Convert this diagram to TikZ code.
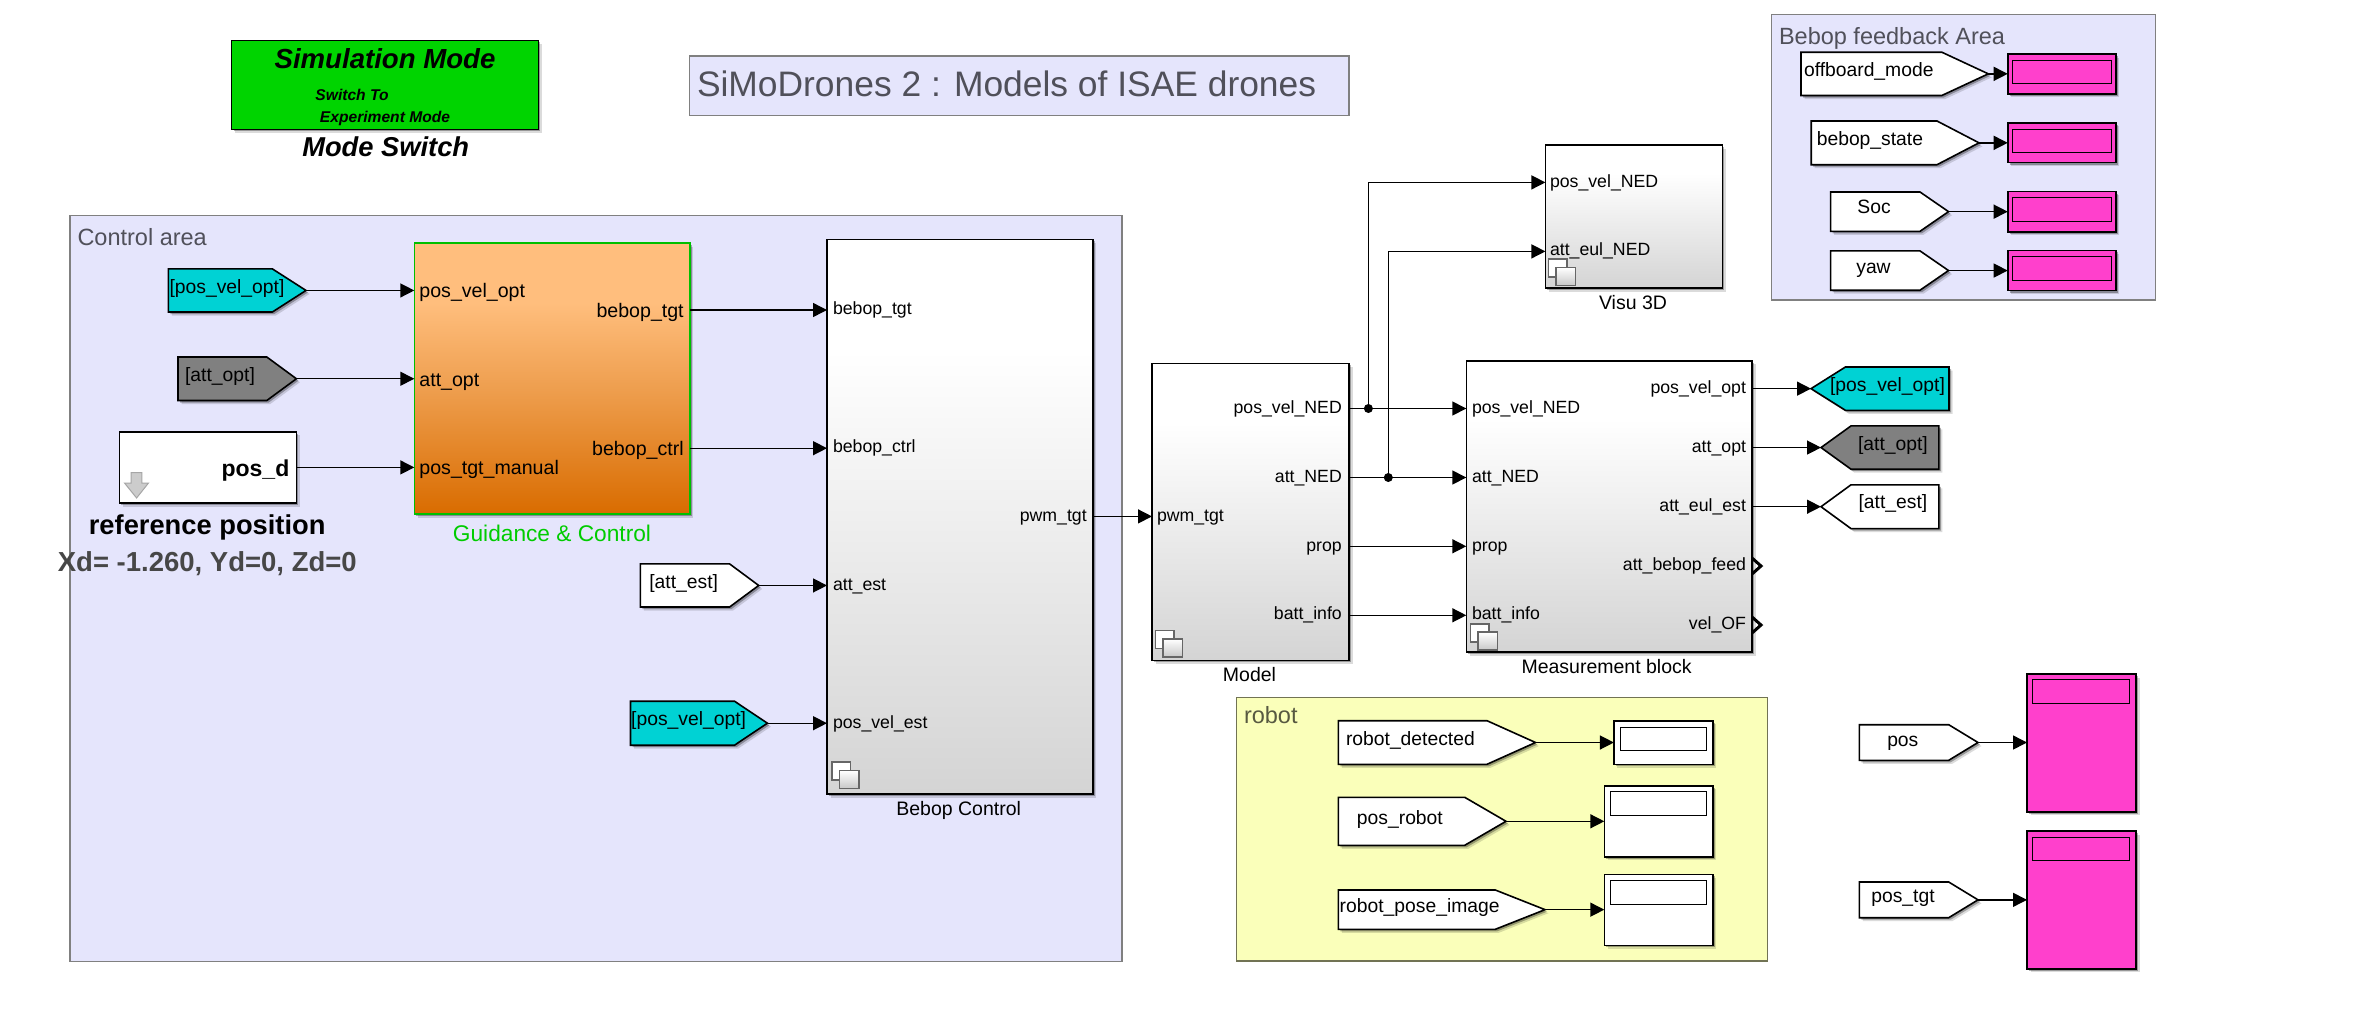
\documentclass[tikz,border=0pt]{standalone}
\usepackage{fontspec}
\setmainfont{Liberation Sans}
\usetikzlibrary{arrows.meta,shadows,calc}
\makeatletter
\pgfkeys{/tikz/tagtip/.initial=30}
\pgfdeclareshape{gotor}{
  \inheritsavedanchors[from=rectangle]
  \inheritanchorborder[from=rectangle]
  \inheritanchor[from=rectangle]{center}
  \inheritanchor[from=rectangle]{west}
  \inheritanchor[from=rectangle]{east}
  \inheritanchor[from=rectangle]{north}
  \inheritanchor[from=rectangle]{south}
  \backgroundpath{
    \southwest \pgf@xa=\pgf@x \pgf@ya=\pgf@y
    \northeast \pgf@xb=\pgf@x \pgf@yb=\pgf@y
    \pgf@xc=\pgf@xb \advance\pgf@xc by -\pgfkeysvalueof{/tikz/tagtip}pt
    \pgf@yc=.5\pgf@ya \advance\pgf@yc by .5\pgf@yb
    \pgfpathmoveto{\pgfpoint{\pgf@xa}{\pgf@ya}}
    \pgfpathlineto{\pgfpoint{\pgf@xc}{\pgf@ya}}
    \pgfpathlineto{\pgfpoint{\pgf@xb}{\pgf@yc}}
    \pgfpathlineto{\pgfpoint{\pgf@xc}{\pgf@yb}}
    \pgfpathlineto{\pgfpoint{\pgf@xa}{\pgf@yb}}
    \pgfpathclose
  }
}
\pgfdeclareshape{gotol}{
  \inheritsavedanchors[from=rectangle]
  \inheritanchorborder[from=rectangle]
  \inheritanchor[from=rectangle]{center}
  \inheritanchor[from=rectangle]{west}
  \inheritanchor[from=rectangle]{east}
  \inheritanchor[from=rectangle]{north}
  \inheritanchor[from=rectangle]{south}
  \backgroundpath{
    \southwest \pgf@xa=\pgf@x \pgf@ya=\pgf@y
    \northeast \pgf@xb=\pgf@x \pgf@yb=\pgf@y
    \pgf@xc=\pgf@xa \advance\pgf@xc by \pgfkeysvalueof{/tikz/tagtip}pt
    \pgf@yc=.5\pgf@ya \advance\pgf@yc by .5\pgf@yb
    \pgfpathmoveto{\pgfpoint{\pgf@xb}{\pgf@ya}}
    \pgfpathlineto{\pgfpoint{\pgf@xc}{\pgf@ya}}
    \pgfpathlineto{\pgfpoint{\pgf@xa}{\pgf@yc}}
    \pgfpathlineto{\pgfpoint{\pgf@xc}{\pgf@yb}}
    \pgfpathlineto{\pgfpoint{\pgf@xb}{\pgf@yb}}
    \pgfpathclose
  }
}
\makeatother
\definecolor{lav}{RGB}{229,229,252}
\definecolor{robotbg}{RGB}{250,255,186}
\definecolor{simgreen}{RGB}{0,212,0}
\definecolor{cyantag}{RGB}{0,210,212}
\definecolor{graytag}{RGB}{128,128,128}
\definecolor{magbox}{RGB}{255,64,204}
\definecolor{areatxt}{RGB}{80,80,90}
\definecolor{gO}{RGB}{217,108,0}
\definecolor{gM}{RGB}{238,158,78}
\definecolor{gT}{RGB}{255,190,125}
\definecolor{sD}{RGB}{212,212,212}
\pgfdeclareverticalshading{guidshade}{100bp}{color(0bp)=(gO); color(25bp)=(gO); color(48bp)=(gM); color(64bp)=(gT); color(100bp)=(gT)}
\pgfdeclareverticalshading{subshade}{100bp}{color(0bp)=(sD); color(25bp)=(sD); color(65bp)=(white); color(100bp)=(white)}
\newcommand\fsz[1]{\fontsize{#1}{#1}\selectfont}
\newcommand\blk[6]{\node[#1,minimum width={#5pt-#3pt},minimum height={#6pt-#4pt}] (#2) at ({(#3+#5)/2},{(#4+#6)/2}) {};}
\newcommand\subicon[2]{%
  \draw[icon] (#1,#2) rectangle ++(18.4,18);
  \draw[iconfront] (#1+7.6,#2+8.6) rectangle ++(19.4,18);}
\tikzset{
  base/.style={inner sep=0pt,outer sep=0pt},
  sh/.style={general shadow={shadow xshift=3.5pt,shadow yshift=-3.5pt,fill=black,opacity=.14},
             general shadow={shadow xshift=2pt,shadow yshift=-2pt,fill=black,opacity=.3}},
  area/.style={base,rectangle,draw=black!50,line width=1.1pt,fill=lav},
  subsys/.style={base,rectangle,draw=black,line width=1.6pt,shade,shading=subshade,sh},
  guidblock/.style={base,rectangle,draw=green!75!black,line width=1.6pt,shade,shading=guidshade,sh},
  plainblock/.style={base,rectangle,draw=black,line width=1.6pt,fill=white,sh},
  magdisp/.style={base,rectangle,draw=black,line width=1.6pt,fill=magbox,sh},
  whitedisp/.style={base,rectangle,draw=black,line width=1.6pt,fill=white,sh},
  inner/.style={base,rectangle,draw=black,line width=1pt},
  modebtn/.style={base,rectangle,draw=black,line width=1.6pt,fill=simgreen,sh},
  tagR/.style={base,shape=gotor,tagtip=#1,draw=black,line width=1.6pt,sh},
  tagL/.style={base,shape=gotol,tagtip=#1,draw=black,line width=1.6pt,sh},
  wire/.style={line width=1.4pt,-{Triangle[length=14pt,width=14pt]}},
  jct/.style={base,circle,fill=black,minimum size=9pt},
  txt/.style={base,execute at begin node={\rule[-.25em]{0pt}{1.22em}}},
  p/.style={txt,font=\fsz{17.7}},
  q/.style={txt,font=\fsz{19.6}},
  t/.style={txt,font=\fsz{19.3}},
  caption/.style={txt,font=\fsz{19.5}},
  areatitle/.style={txt,font=\fsz{23.5},text=areatxt},
  icon/.style={line width=1.7pt,draw=black!60,fill=white},
  iconfront/.style={line width=1.7pt,draw=black!60,top color=white,bottom color=black!22},
  chev/.style={line width=3pt,draw=black,line join=miter},
}
\begin{document}
\begin{tikzpicture}[x=1pt,y=-1pt]
\useasboundingbox (0,0) rectangle (2355,1009);
\fill[white] (0,0) rectangle (2355,1009);

% mode switch
\blk{modebtn}{modeBtn}{231.6}{40.3}{538.3}{129.3}
\node[txt,font=\fsz{27.6}\bfseries\itshape] (simMode) at (385,58.5) {Simulation Mode};
\node[txt,font=\fsz{15.6}\bfseries\itshape] (swTo) at (352,95.3) {Switch To};
\node[txt,font=\fsz{15.6}\bfseries\itshape] (expMode) at (385,116.6) {Experiment Mode};
\node[txt,font=\fsz{27.3}\bfseries\itshape] (modeSw) at (385.7,146.3) {Mode Switch};

% title
\blk{area}{titleBox}{689.3}{56}{1349}{115.5}
\node[txt,anchor=west,font=\fsz{35.4},text=areatxt] (titleTxt) at (697,84) {SiMoDrones 2 : Models of ISAE drones};

% areas
\blk{area}{ctrlArea}{70}{215.5}{1122}{961.7}
\node[areatitle,anchor=west] (ctrlTxt) at (77.5,237) {Control area};
\blk{area}{fbArea}{1771.4}{14.7}{2155.6}{300}
\node[areatitle,anchor=west] (fbTxt) at (1779,35.7) {Bebop feedback Area};
\blk{area,fill=robotbg,draw=black!55!robotbg}{robotArea}{1236.4}{697.3}{1767.6}{961}
\node[areatitle,anchor=west,text=black!65!robotbg] (robotTxt) at (1244,715) {robot};

% left sources
\blk{tagR=33.6,fill=cyantag}{tCyanA}{168.4}{268.9}{306}{312}
\node[t] (tCyanAt) at (227,287) {[pos\_vel\_opt]};
\blk{tagR=29.6,fill=graytag}{tGrayA}{178}{357}{296.4}{400.5}
\node[t] (tGrayAt) at (220,375) {[att\_opt]};
\blk{plainblock}{posD}{119.4}{431.8}{296.4}{503}
\node[txt,anchor=east,font=\fsz{23}\bfseries] (posDt) at (289.3,467.8) {pos\_d};
\draw[line width=1pt,draw=black!35,fill=black!20] (131.1,472.5) -- (141.8,472.5) -- (141.8,483) -- (148.5,483) -- (136.6,498) -- (124.5,483) -- (131.1,483) -- cycle;
\node[txt,font=\fsz{27.3}\bfseries] (refPos) at (207.2,525) {reference position};
\node[txt,font=\fsz{27.5}\bfseries,text=black!72] (xdTxt) at (207.3,561.5) {Xd= -1.260, Yd=0, Zd=0};

% guidance
\blk{guidblock}{guid}{414.3}{243.2}{689.8}{514}
\node[q,anchor=west] (gA) at (419.4,290.6) {pos\_vel\_opt};
\node[q,anchor=west] (gB) at (419.4,379.6) {att\_opt};
\node[q,anchor=west] (gC) at (419.4,467.4) {pos\_tgt\_manual};
\node[q,anchor=east] (gD) at (683.7,310.8) {bebop\_tgt};
\node[q,anchor=east] (gE) at (683.7,448) {bebop\_ctrl};
\node[txt,font=\fsz{22.7},text=green!80!black] (gCap) at (552,533.8) {Guidance \& Control};

% bebop control
\blk{subsys}{bebop}{827}{239.3}{1092.9}{794}
\node[p,anchor=west] (bA) at (833,308.2) {bebop\_tgt};
\node[p,anchor=west] (bB) at (833,446.5) {bebop\_ctrl};
\node[p,anchor=west] (bC) at (833,583.8) {att\_est};
\node[p,anchor=west] (bD) at (833,721.8) {pos\_vel\_est};
\node[p,anchor=east] (bE) at (1086.7,514.8) {pwm\_tgt};
\node[caption] (bCap) at (958.7,808.7) {Bebop Control};
\subicon{832}{762}
\blk{tagR=29.1,fill=white}{tWhiteA}{640.3}{563.9}{758.7}{607}
\node[t] (tWhiteAt) at (683.7,582) {[att\_est]};
\blk{tagR=32.9,fill=cyantag}{tCyanB}{630.5}{701.2}{767.4}{745.2}
\node[t] (tCyanBt) at (688.6,719) {[pos\_vel\_opt]};

% model
\blk{subsys}{model}{1152}{363.3}{1349}{660.3}
\node[p,anchor=west] (mA) at (1157,514.8) {pwm\_tgt};
\node[p,anchor=east] (mB) at (1341.8,407) {pos\_vel\_NED};
\node[p,anchor=east] (mC) at (1341.8,476) {att\_NED};
\node[p,anchor=east] (mD) at (1341.8,545) {prop};
\node[p,anchor=east] (mE) at (1341.8,613.5) {batt\_info};
\node[caption] (mCap) at (1249.5,674.4) {Model};
\subicon{1155.6}{630.4}

% visu
\blk{subsys}{visu}{1545.4}{145}{1722.4}{288}
\node[p,anchor=west] (vA) at (1550,181) {pos\_vel\_NED};
\node[p,anchor=west] (vB) at (1550,249.6) {att\_eul\_NED};
\node[caption] (vCap) at (1633,302) {Visu 3D};
\subicon{1548.5}{259}

% measurement
\blk{subsys}{meas}{1466.3}{360.7}{1752}{652.2}
\node[p,anchor=west] (eA) at (1472,407) {pos\_vel\_NED};
\node[p,anchor=west] (eB) at (1472,476) {att\_NED};
\node[p,anchor=west] (eC) at (1472,545) {prop};
\node[p,anchor=west] (eD) at (1472,613) {batt\_info};
\node[p,anchor=east] (eE) at (1746,387.5) {pos\_vel\_opt};
\node[p,anchor=east] (eF) at (1746,446.5) {att\_opt};
\node[p,anchor=east] (eG) at (1746,505.5) {att\_eul\_est};
\node[p,anchor=east] (eH) at (1746,564.5) {att\_bebop\_feed};
\node[p,anchor=east] (eI) at (1746,623) {vel\_OF};
\node[caption] (eCap) at (1606.6,666.5) {Measurement block};
\subicon{1470.4}{623.7}
\coordinate (chA) at (1752,566);
\coordinate (chB) at (1752,625);
\draw[chev] ($(chA)+(0,-8)$) -- ++(9,8) -- ++(-9,8);
\draw[chev] ($(chB)+(0,-8)$) -- ++(9,8) -- ++(-9,8);

% right gotos
\blk{tagL=34.4,fill=cyantag}{tCyanC}{1811}{367}{1949}{410.3}
\node[t] (tCyanCt) at (1887.5,384.8) {[pos\_vel\_opt]};
\blk{tagL=30,fill=graytag}{tGrayC}{1821}{425.9}{1938.8}{469.2}
\node[t] (tGrayCt) at (1892.9,443.3) {[att\_opt]};
\blk{tagL=30,fill=white}{tWhiteC}{1821}{484.8}{1938.8}{528.6}
\node[t] (tWhiteCt) at (1892.9,502) {[att\_est]};

% feedback area
\blk{tagR=46.5,fill=white}{fA}{1801}{52.2}{1988.3}{95.5}
\node[t,anchor=west] (fAt) at (1804,69.2) {offboard\_mode};
\blk{tagR=42,fill=white}{fB}{1811.2}{121}{1979}{164.7}
\node[t,anchor=west] (fBt) at (1816.8,138.4) {bebop\_state};
\blk{tagR=28.5,fill=white}{fC}{1830.6}{192}{1948.5}{231.3}
\node[t] (fCt) at (1874,207) {Soc};
\blk{tagR=28.5,fill=white}{fD}{1830.6}{250.9}{1948.5}{290.2}
\node[t] (fDt) at (1873.5,267) {yaw};
\blk{magdisp}{dA}{2007.7}{54}{2115.8}{93.8}
\blk{inner}{dAi}{2012.8}{60.3}{2111.2}{83.5}
\blk{magdisp}{dB}{2007.7}{122.8}{2115.8}{162.5}
\blk{inner}{dBi}{2012.8}{129.5}{2111.2}{152.7}
\blk{magdisp}{dC}{2007.7}{191.5}{2115.8}{231.7}
\blk{inner}{dCi}{2012.8}{197.3}{2111.2}{221.4}
\blk{magdisp}{dD}{2007.7}{250.4}{2115.8}{290.6}
\blk{inner}{dDi}{2012.8}{256.3}{2111.2}{280.4}

% robot area
\blk{tagR=48.5,fill=white}{rA}{1338.4}{720.7}{1535.5}{764.3}
\node[t,anchor=west] (rAt) at (1346,738.7) {robot\_detected};
\blk{tagR=41.3,fill=white}{rB}{1338.4}{797.3}{1506}{845.3}
\node[t] (rBt) at (1399.9,818) {pos\_robot};
\blk{tagR=49.7,fill=white}{rC}{1338.4}{890}{1545}{929.3}
\node[t,anchor=west] (rCt) at (1339.7,905.7) {robot\_pose\_image};
\blk{whitedisp}{wA}{1613.9}{720.7}{1712.8}{764.3}
\blk{inner}{wAi}{1620.3}{727.3}{1706.4}{750.7}
\blk{whitedisp}{wB}{1604.3}{785.7}{1712.8}{856.7}
\blk{inner}{wBi}{1610}{791.3}{1706.4}{815.7}
\blk{whitedisp}{wC}{1604.3}{874.3}{1712.8}{945.3}
\blk{inner}{wCi}{1610}{880.3}{1706.4}{904.7}

% pos / pos_tgt
\blk{tagR=29.3,fill=white}{sA}{1859.4}{724.7}{1978}{760.3}
\node[t] (sAt) at (1902.8,739.3) {pos};
\blk{tagR=29.3,fill=white}{sB}{1859.4}{882}{1978}{917.7}
\node[t] (sBt) at (1903,896) {pos\_tgt};
\blk{magdisp}{bigA}{2027}{674}{2136.2}{811.7}
\blk{inner}{bigAi}{2032.9}{679.5}{2129.2}{703.7}
\blk{magdisp}{bigB}{2027}{831}{2136.2}{968.7}
\blk{inner}{bigBi}{2032.9}{837.3}{2129.2}{860.3}

% wire levels
\coordinate (yTgt) at (0,310);
\coordinate (yCtrl) at (0,448.2);
\coordinate (yPwm) at (0,516.4);
\coordinate (yPos) at (0,408.5);
\coordinate (yAtt) at (0,477.5);
\coordinate (yProp) at (0,546.3);
\coordinate (yBatt) at (0,615.3);
\coordinate (yVa) at (0,182.4);
\coordinate (yVb) at (0,251.4);
\coordinate (yManual) at (0,467.4);
\node[jct] (jA) at (1368.4,408.5) {};
\node[jct] (jB) at (1388.3,477.5) {};

% connectors
\draw[wire] (tCyanA.east) -- (guid.west |- tCyanA.east);
\draw[wire] (tGrayA.east) -- (guid.west |- tGrayA.east);
\draw[wire] (posD.east |- yManual) -- (guid.west |- yManual);
\draw[wire] (guid.east |- yTgt) -- (bebop.west |- yTgt);
\draw[wire] (guid.east |- yCtrl) -- (bebop.west |- yCtrl);
\draw[wire] (tWhiteA.east) -- (bebop.west |- tWhiteA.east);
\draw[wire] (tCyanB.east) -- (bebop.west |- tCyanB.east);
\draw[wire] (bebop.east |- yPwm) -- (model.west |- yPwm);
\draw[wire] (model.east |- yPos) -- (meas.west |- yPos);
\draw[wire] (model.east |- yAtt) -- (meas.west |- yAtt);
\draw[wire] (model.east |- yProp) -- (meas.west |- yProp);
\draw[wire] (model.east |- yBatt) -- (meas.west |- yBatt);
\draw[wire] (jA.center) |- (visu.west |- yVa);
\draw[wire] (jB.center) |- (visu.west |- yVb);
\draw[wire] (meas.east |- tCyanC.west) -- (tCyanC.west);
\draw[wire] (meas.east |- tGrayC.west) -- (tGrayC.west);
\draw[wire] (meas.east |- tWhiteC.west) -- (tWhiteC.west);
\draw[wire] (fA.east) -- (dA.west |- fA.east);
\draw[wire] (fB.east) -- (dB.west |- fB.east);
\draw[wire] (fC.east) -- (dC.west |- fC.east);
\draw[wire] (fD.east) -- (dD.west |- fD.east);
\draw[wire] (rA.east) -- (wA.west |- rA.east);
\draw[wire] (rB.east) -- (wB.west |- rB.east);
\draw[wire] (rC.east) -- (wC.west |- rC.east);
\draw[wire] (sA.east) -- (bigA.west |- sA.east);
\draw[wire] (sB.east) -- (bigB.west |- sB.east);
\end{tikzpicture}
\end{document}
